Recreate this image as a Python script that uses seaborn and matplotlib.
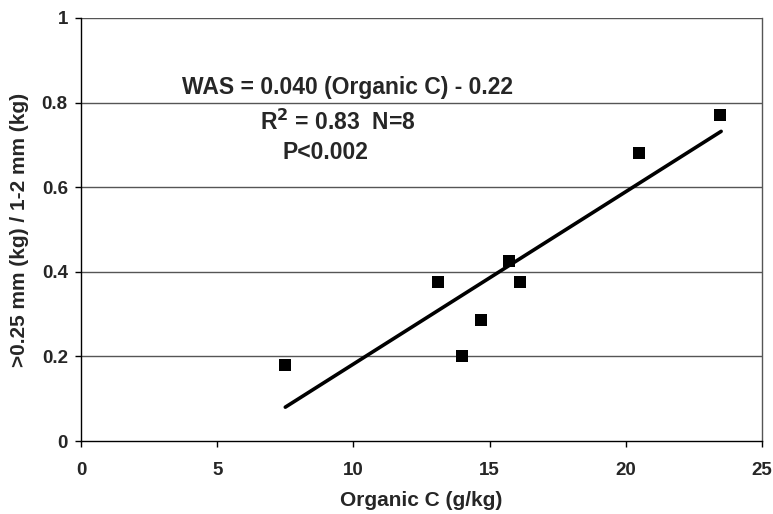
import matplotlib
matplotlib.use("Agg")
import matplotlib.pyplot as plt
import seaborn as sns
import pandas as pd

organic_c = [7.5, 13.1, 14.0, 14.7, 15.7, 16.1, 20.5, 23.45]
was_ratio = [0.18, 0.375, 0.20, 0.285, 0.425, 0.375, 0.68, 0.77]
fit_x = [7.5, 23.5]
fit_y = [0.08, 0.732]
x_ticks = [0, 5, 10, 15, 20, 25]
y_ticks = [0, 0.2, 0.4, 0.6, 0.8, 1]
y_tick_labels = ["0", "0.2", "0.4", "0.6", "0.8", "1"]

sns.set_style("white", {"xtick.bottom": True, "ytick.left": True})
plt.rcParams['font.family'] = ['Liberation Sans', 'DejaVu Sans']

fig = plt.figure(figsize=(7.73, 5.14), dpi=100)
ax = fig.add_axes([81/773, 1 - 441/514, (762-81)/773, (441-18)/514])

df = pd.DataFrame({"x": organic_c, "y": was_ratio})
fit = pd.DataFrame({"x": fit_x, "y": fit_y})

for yv in y_ticks[1:]:
    ax.axhline(yv, color="#555555", lw=1.0, zorder=0)

sns.lineplot(data=fit, x="x", y="y", ax=ax, color="black", lw=2.6, zorder=2)
sns.scatterplot(data=df, x="x", y="y", ax=ax, marker="s", s=75, color="black",
                edgecolor="black", linewidth=0, zorder=3)

ax.set_xlim(0, 25)
ax.set_ylim(0, 1)
ax.set_xticks(x_ticks)
ax.set_xticklabels([str(v) for v in x_ticks])
ax.set_yticks(y_ticks)
ax.set_yticklabels(y_tick_labels)
ax.tick_params(axis="both", which="major", bottom=True, left=True,
               direction="out", length=4.5, width=1, color="black",
               labelsize=13.5, pad=5)
ax.tick_params(axis="x", pad=10.5)
for lab in ax.get_xticklabels() + ax.get_yticklabels():
    lab.set_fontweight("bold")

for side in ["left", "bottom"]:
    ax.spines[side].set_color("black")
    ax.spines[side].set_linewidth(1.0)
ax.spines["right"].set_color("#555555")
ax.spines["right"].set_linewidth(1.0)
ax.spines["top"].set_visible(False)

ax.set_xlabel("Organic C (g/kg)", fontsize=15, fontweight="bold", labelpad=9)
ax.set_ylabel(">0.25 mm (kg) / 1-2 mm (kg)", fontsize=15, fontweight="bold", labelpad=9)

ax.text(9.77, 0.835, "WAS = 0.040 (Organic C) - 0.22", ha="center", va="center",
        fontsize=16.5, fontweight="bold")
ax.text(9.43, 0.754, r"R$^{\mathbf{2}}$ = 0.83  N=8", ha="center", va="center",
        fontsize=16.5, fontweight="bold")
ax.text(8.96, 0.681, "P<0.002", ha="center", va="center",
        fontsize=16.5, fontweight="bold")

fig.savefig("out.png", dpi=100)
